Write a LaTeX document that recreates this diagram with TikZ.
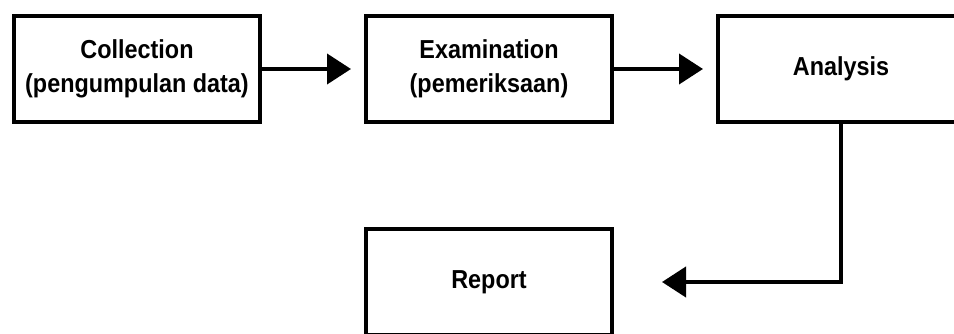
\documentclass[tikz,border=0pt]{standalone}
\usepackage{fontspec}
\setmainfont{Liberation Sans}[FakeStretch=0.9]
\usetikzlibrary{arrows.meta}

\begin{document}
\begin{tikzpicture}[x=1pt,y=-1pt,
  stage/.style={draw,line width=4pt,minimum width=246pt,minimum height=106pt,inner sep=0pt,align=center,font=\fontsize{26}{34}\selectfont\bfseries},
  flow/.style={line width=4pt,-{Triangle[length=24pt,width=30pt]}}]
\useasboundingbox (0,0) rectangle (954,334);
\clip (0,0) rectangle (954,334);
\node[stage] (coll) at (137,69) {Collection\\(pengumpulan data)};
\node[stage] (exam) at (489,69) {Examination\\(pemeriksaan)};
\node[stage] (ana) at (841,69) {Analysis};
\node[stage] (rep) at (489,282) {Report};
\draw[flow,shorten >=13pt] (coll) -- (exam);
\draw[flow,shorten >=13pt] (exam) -- (ana);
\draw[flow,shorten >=48pt] (ana) |- (rep);
\end{tikzpicture}
\end{document}
